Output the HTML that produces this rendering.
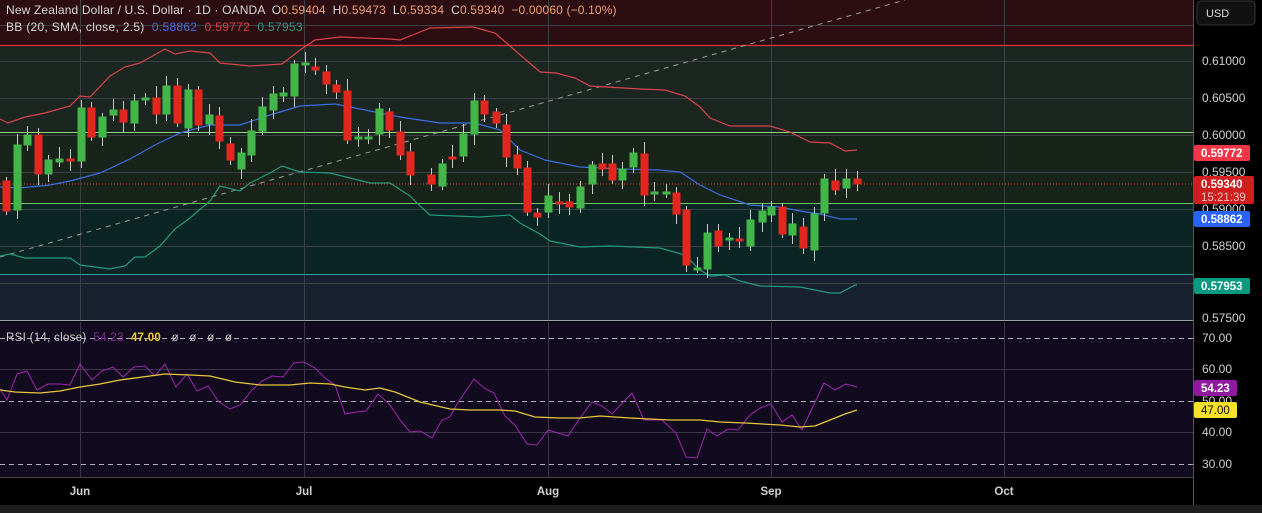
<!DOCTYPE html>
<html><head><meta charset="utf-8"><style>
html,body{margin:0;padding:0;background:#000;width:1262px;height:513px;overflow:hidden;font-family:"Liberation Sans",sans-serif}
svg{display:block}
</style></head><body>
<svg id="s" width="1262" height="513" xmlns="http://www.w3.org/2000/svg" font-family="Liberation Sans, sans-serif">
<rect x="0" y="0" width="1262" height="513" fill="#000"/>
<rect x="0" y="0" width="1193" height="45" fill="#2b0d12"/>
<rect x="0" y="45" width="1193" height="87" fill="#1c2620"/>
<rect x="0" y="132" width="1193" height="71" fill="#18231a"/>
<rect x="0" y="203" width="1193" height="71" fill="#0b2424"/>
<rect x="0" y="274" width="1193" height="46" fill="#172130"/>
<g id="grid" stroke="#3a4046" stroke-width="1"></g>
<line x1="0" y1="45.5" x2="1193" y2="45.5" stroke="#e0323c" stroke-width="1.2"/>
<line x1="0" y1="132.5" x2="1193" y2="132.5" stroke="#8fd47f" stroke-width="1"/>
<line x1="0" y1="203.5" x2="1193" y2="203.5" stroke="#6ec25e" stroke-width="1"/>
<line x1="0" y1="274.5" x2="1193" y2="274.5" stroke="#2aa198" stroke-width="1"/>
<line x1="0" y1="257" x2="905" y2="0" stroke="#9a9a9a" stroke-width="1" stroke-dasharray="5,5"/>
<line x1="0" y1="184" x2="1193" y2="184" stroke="#e04030" stroke-width="1" stroke-dasharray="1,2"/>
<g id="bands" fill="none"></g>
<g id="candles"></g>
<rect x="0" y="322" width="1193" height="155" fill="#120a1e"/>
<line x1="0" y1="320.5" x2="1193" y2="320.5" stroke="#9aa4b0" stroke-width="1"/>
<g id="rgrid" stroke="#3a3548"></g>
<g stroke="#b0b0b8" stroke-dasharray="5,4" stroke-width="1">
<line x1="0" y1="338.5" x2="1193" y2="338.5"/><line x1="0" y1="401.5" x2="1193" y2="401.5"/><line x1="0" y1="464.5" x2="1193" y2="464.5"/>
</g>
<g id="rsi" fill="none"></g>
<line x1="0" y1="477.5" x2="1193" y2="477.5" stroke="#444" />
<line x1="1193.5" y1="0" x2="1193.5" y2="505" stroke="#555"/>
<rect x="0" y="505" width="1262" height="8" fill="#1e1e1e"/>
<text x="6" y="14" font-size="12" letter-spacing="0.15" fill="#d8d8d8" xml:space="preserve">New Zealand Dollar / U.S. Dollar · 1D · OANDA  O<tspan fill="#f0a070">0.59404</tspan>  H<tspan fill="#f0a070">0.59473</tspan>  L<tspan fill="#f0a070">0.59334</tspan>  C<tspan fill="#f0a070">0.59340</tspan>  <tspan fill="#f0a070">−0.00060 (−0.10%)</tspan></text>
<text x="6" y="31" font-size="12" letter-spacing="0.3" fill="#d8d8d8" xml:space="preserve">BB (20, SMA, close, 2.5)  <tspan fill="#3b6fe0">0.58862</tspan>  <tspan fill="#e03a45">0.59772</tspan>  <tspan fill="#2a9a80">0.57953</tspan></text>
<text x="6" y="341" font-size="11.5" letter-spacing="0.3" fill="#d0d0d0" xml:space="preserve">RSI (14, close)  <tspan fill="#8a2a9a">54.23</tspan>  <tspan fill="#f0d020" font-weight="bold">47.00</tspan>   <tspan fill="#c8c8c8">ø   ø   ø   ø</tspan></text>
<rect x="1197" y="1" width="58" height="24" rx="4" fill="#111" stroke="#333"/>
<text x="1206" y="17" font-size="11" fill="#ddd">USD</text>
<g font-size="12" fill="#d0d0d0">
<text x="1202" y="65">0.61000</text><text x="1202" y="102">0.60500</text><text x="1202" y="139">0.60000</text>
<text x="1202" y="176">0.59500</text><text x="1202" y="213">0.59000</text><text x="1202" y="250">0.58500</text><text x="1202" y="322">0.57500</text>
<text x="1202" y="342">70.00</text><text x="1202" y="373">60.00</text><text x="1202" y="405">50.00</text><text x="1202" y="436">40.00</text><text x="1202" y="468">30.00</text>
</g>
<rect x="1194" y="145" width="56" height="16" rx="2" fill="#f23645"/><text x="1201" y="157" font-size="11.5" fill="#fff" font-weight="bold">0.59772</text>
<rect x="1194" y="176" width="60" height="28" rx="2" fill="#d01e1e"/><text x="1201" y="188" font-size="11.5" fill="#fff" font-weight="bold">0.59340</text><text x="1201" y="201" font-size="11.5" fill="#f4c0c0">15:21:39</text>
<rect x="1194" y="211" width="56" height="16" rx="2" fill="#2962ff"/><text x="1201" y="223" font-size="11.5" fill="#fff" font-weight="bold">0.58862</text>
<rect x="1194" y="278" width="56" height="16" rx="2" fill="#089981"/><text x="1201" y="290" font-size="11.5" fill="#fff" font-weight="bold">0.57953</text>
<rect x="1194" y="380" width="43" height="16" rx="2" fill="#8e1a9e"/><text x="1201" y="392" font-size="11.5" fill="#fff" font-weight="bold">54.23</text>
<rect x="1194" y="402" width="43" height="16" rx="2" fill="#f5e02a"/><text x="1201" y="414" font-size="11.5" fill="#111">47.00</text>
<g font-size="11.5" fill="#d0d0d0" font-weight="bold" text-anchor="middle">
<text x="80" y="495">Jun</text><text x="304" y="495">Jul</text><text x="548" y="495">Aug</text><text x="771" y="495">Sep</text><text x="1004" y="495">Oct</text>
</g>
</svg>
<script>
var NS="http://www.w3.org/2000/svg";
function el(p,t,a){var e=document.createElementNS(NS,t);for(var k in a)e.setAttribute(k,a[k]);document.getElementById(p).appendChild(e);return e;}
[80,304,548,771,1004].forEach(function(x){el("grid","line",{x1:x+.5,y1:0,x2:x+.5,y2:320});el("rgrid","line",{x1:x+.5,y1:322,x2:x+.5,y2:477});});
[25,61,98,135,172,209,246,283].forEach(function(y){el("grid","line",{x1:0,y1:y+.5,x2:1193,y2:y+.5});});
[369,432].forEach(function(y){el("rgrid","line",{x1:0,y1:y+.5,x2:1193,y2:y+.5});});
function pl(g,pts,c,w){el(g,"polyline",{points:pts.map(function(p){return p.join(",")}).join(" "),stroke:c,"stroke-width":w||1.2,fill:"none"});}
pl("bands",[[0,119],[8,123],[25,117],[45,113],[70,106],[80,96],[90,97],[110,76],[125,67],[140,63],[165,49],[175,54],[190,51],[210,53],[220,63],[250,66],[282,64],[300,50],[315,40],[340,37],[390,39],[400,40],[420,32],[430,28],[473,27],[495,33],[518,53],[540,72],[556,73],[575,78],[590,86],[640,89],[665,90],[685,96],[700,107],[710,118],[730,126],[770,126],[790,132],[810,142],[830,143],[845,151],[857,150]],"#d9434c");
pl("bands",[[0,187],[20,188],[50,185],[70,181],[100,173],[130,159],[155,145],[180,133],[210,125],[240,125],[270,115],[300,106],[335,104],[370,111],[400,117],[420,120],[440,123],[475,123],[500,130],[520,150],[545,160],[580,167],[620,169],[660,170],[680,172],[700,185],[720,195],[750,205],[780,207],[800,211],[820,214],[840,219],[857,219]],"#3a6fe0");
pl("bands",[[0,256],[10,254],[25,258],[70,258],[80,265],[110,269],[125,266],[135,257],[145,257],[160,246],[175,229],[190,218],[210,201],[220,186],[240,191],[250,183],[270,173],[282,166],[300,172],[330,173],[350,178],[370,183],[390,183],[410,196],[420,206],[430,215],[480,217],[510,215],[520,223],[540,234],[550,241],[580,247],[610,246],[660,248],[685,255],[700,270],[710,276],[725,275],[740,281],[760,286],[800,287],[830,293],[840,293],[855,285],[857,285]],"#229a80");
var C=[[6,181,211,'r'],[17,145,210,'g'],[27,135,145,'g'],[38,135,174,'r'],[48,160,174,'g'],[59,159,162,'g'],[70,159,161,'r'],[81,108,161,'g'],[91,108,137,'r'],[102,117,137,'g'],[113,110,115,'g'],[123,110,122,'r'],[134,101,123,'g'],[145,98,100,'g'],[156,98,114,'r'],[166,86,114,'g'],[177,86,123,'r'],[188,90,128,'g'],[198,90,125,'r'],[209,115,124,'g'],[219,116,141,'r'],[230,144,160,'r'],[241,153,169,'g'],[251,131,155,'g'],[262,107,131,'g'],[273,94,110,'g'],[283,93,96,'g'],[294,64,96,'g'],[305,63,65,'g'],[315,67,70,'r'],[326,72,84,'r'],[336,85,92,'r'],[347,91,140,'r'],[358,137,138,'g'],[368,137,138,'g'],[379,109,134,'g'],[389,112,130,'r'],[400,132,155,'r'],[410,152,175,'r'],[431,175,184,'r'],[442,164,186,'g'],[452,157,159,'r'],[463,134,156,'g'],[474,101,134,'g'],[484,101,114,'r'],[496,112,123,'r'],[506,125,157,'r'],[517,155,168,'r'],[527,168,212,'r'],[537,213,217,'r'],[548,196,212,'g'],[559,202,203,'r'],[569,202,207,'r'],[580,187,208,'g'],[592,165,184,'g'],[602,164,169,'r'],[612,164,180,'r'],[622,169,180,'g'],[633,153,167,'g'],[644,154,195,'r'],[654,192,193,'g'],[666,192,193,'g'],[676,193,214,'r'],[686,210,265,'r'],[697,268,269,'g'],[707,233,269,'g'],[718,231,246,'r'],[729,238,239,'g'],[739,239,240,'r'],[750,220,246,'g'],[762,211,222,'g'],[771,207,215,'g'],[782,207,234,'r'],[792,224,235,'g'],[803,227,248,'r'],[814,214,250,'g'],[824,179,213,'g'],[835,181,190,'r'],[846,179,188,'g'],[857,179,184,'r']];
C.forEach(function(c,i){var col=c[3]=='g'?'#43b649':'#e2281e';var d=(i*7)%9;
el("candles","line",{x1:c[0]+.5,y1:c[1]-4-d,x2:c[0]+.5,y2:c[2]+4+(i*5)%8,stroke:"#c8c8c8","stroke-width":1});
el("candles","rect",{x:c[0]-3,y:c[1],width:7,height:Math.max(2,c[2]-c[1]),fill:col,stroke:col});});
pl("rsi",[[0,389],[7,400],[17,374],[27,371],[37,390],[48,384],[60,384],[70,385],[80,364],[92,380],[102,371],[113,367],[123,377],[134,367],[145,366],[155,376],[165,364],[176,387],[187,374],[197,391],[208,386],[219,402],[230,409],[240,405],[252,390],[262,381],[272,376],[283,377],[294,363],[304,362],[315,368],[325,378],[335,385],[345,414],[356,412],[366,411],[378,394],[390,405],[400,420],[410,432],[420,431],[432,438],[442,420],[450,417],[457,404],[474,379],[484,388],[494,393],[505,416],[515,425],[527,444],[537,445],[548,430],[558,433],[568,436],[580,418],[592,402],[602,406],[612,414],[632,393],[644,420],[654,420],[662,420],[676,433],[686,457],[697,458],[707,429],[717,436],[728,429],[738,430],[750,415],[760,408],[771,404],[782,422],[792,415],[802,430],[824,383],[835,390],[846,384],[857,387]],"#9c27b0",1);
pl("rsi",[[0,390],[15,392],[40,393],[60,391],[80,387],[100,384],[120,380],[150,376],[165,374],[190,375],[210,376],[235,382],[260,385],[290,385],[310,383],[330,384],[345,387],[365,390],[380,388],[395,392],[420,402],[450,409],[470,410],[500,410],[515,411],[535,417],[560,418],[580,418],[600,416],[630,418],[650,419],[670,420],[700,420],[720,422],[745,423],[780,425],[800,427],[815,426],[830,420],[845,414],[857,410]],"#e8c83a",1.3);
</script>
</body></html>
